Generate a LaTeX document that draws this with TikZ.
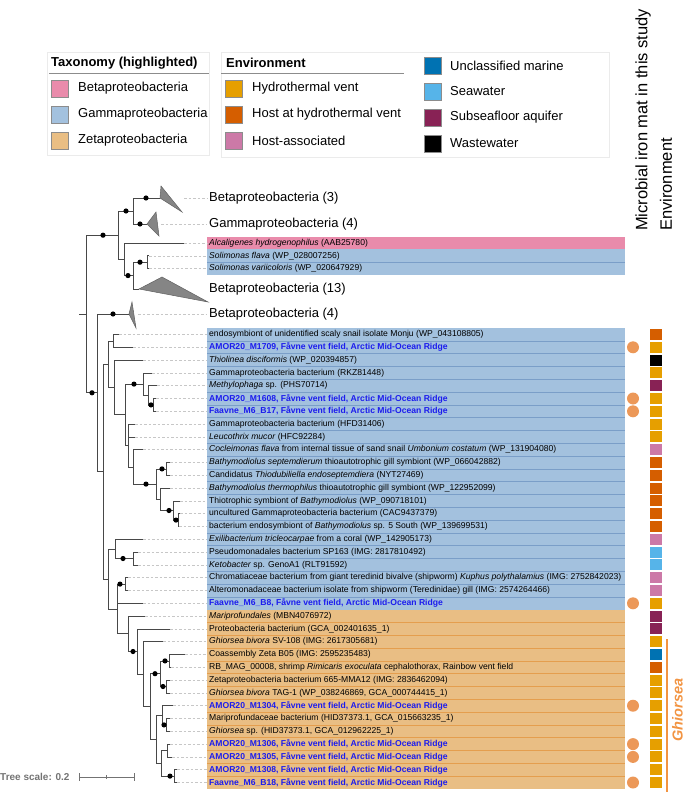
\documentclass[tikz,border=0pt]{standalone}
\usepackage{fontspec}
\setmainfont{Liberation Sans}

\definecolor{betafill}{RGB}{233,139,171}
\definecolor{gammafill}{RGB}{163,193,222}
\definecolor{zetafill}{RGB}{233,190,132}
\definecolor{gammaline}{RGB}{122,158,200}
\definecolor{zetaline}{RGB}{228,158,78}
\definecolor{ventcol}{RGB}{230,159,0}
\definecolor{hostventcol}{RGB}{213,94,0}
\definecolor{hostcol}{RGB}{204,121,167}
\definecolor{marinecol}{RGB}{0,114,178}
\definecolor{seacol}{RGB}{86,180,233}
\definecolor{aquifercol}{RGB}{136,34,85}
\definecolor{wastecol}{RGB}{0,0,0}
\definecolor{matcol}{RGB}{236,152,88}
\definecolor{ghiorseacol}{RGB}{242,148,66}
\definecolor{magblue}{RGB}{28,28,238}
\definecolor{treegray}{RGB}{72,72,72}

\newcommand{\magname}[1]{{\bfseries\color{magblue}#1, Fåvne vent field, Arctic Mid-Ocean Ridge}}
\newcommand{\fork}[3]{\draw[br] (#2) -| (#1 |- #3) -- (#3);}

\begin{document}
\begin{tikzpicture}[x=1pt, y=-1pt,
  br/.style={draw=treegray, line width=0.8pt},
  leader/.style={draw=black!22, line width=0.5pt, dash pattern=on 2.5pt off 2pt},
  clade/.style={fill=black!48, draw=black!62, line width=0.5pt},
  lab/.style={anchor=west, inner xsep=2pt, inner ysep=0pt, font=\fontsize{8.6}{10}\selectfont},
  cladelab/.style={anchor=west, inner xsep=2pt, inner ysep=0pt, font=\fontsize{13}{15}\selectfont},
  envbox/.style={minimum width=12pt, minimum height=11pt, inner sep=0pt},
  matdot/.style={circle, fill=matcol, minimum size=12pt, inner sep=0pt},
  legsq/.style={draw=black!45, line width=0.5pt, minimum size=17pt, inner sep=0pt},
  legtxt/.style={anchor=west, inner sep=0pt, font=\fontsize{13}{15}\selectfont},
  leghead/.style={anchor=west, inner sep=0pt, font=\fontsize{13}{15}\selectfont\bfseries},
  legbox/.style={draw=black!8, line width=0.6pt},
  legrule/.style={draw=black!45, line width=0.9pt},
  colhead/.style={rotate=90, anchor=west, inner sep=0pt, font=\fontsize{16.5}{18}\selectfont},
  scalebar/.style={draw=black!55, line width=0.8pt}]
\useasboundingbox (0,0) rectangle (685,794);

% legend: taxonomy
\draw[legbox] (47,52) rectangle (209,155);
\node[leghead] (htax) at (51,63) {Taxonomy (highlighted)};
\draw[legrule] (49,73) -- (209,73);
\foreach \i/\col/\txt in {1/betafill/Betaproteobacteria, 2/gammafill/Gammaproteobacteria, 3/zetafill/Zetaproteobacteria}{
  \node[legsq, fill=\col] (tq\i) at (59.5,{62.5+26*\i}) {};
  \node[legtxt] (tl\i) at (78,{62.5+26*\i}) {\txt};
}

% legend: environment
\draw[legbox] (221,52) rectangle (609,157);
\node[leghead] (henv) at (226,63) {Environment};
\draw[legrule] (221,73) -- (404,73);
\foreach \i/\col/\txt in {1/ventcol/Hydrothermal vent, 2/hostventcol/Host at hydrothermal vent, 3/hostcol/Host-associated}{
  \node[legsq, fill=\col] (eq\i) at (234,{62.5+26*\i}) {};
  \node[legtxt] (el\i) at (252,{62.5+26*\i}) {\txt};
}
\foreach \i/\col/\txt in {1/marinecol/Unclassified marine, 2/seacol/Seawater, 3/aquifercol/Subseafloor aquifer, 4/wastecol/Wastewater}{
  \node[legsq, fill=\col] (fq\i) at (433,{39.5+26*\i}) {};
  \node[legtxt] (fl\i) at (450,{39.5+26*\i}) {\txt};
}

% column headers
\node[colhead] (hmat) at (643,231) {Microbial iron mat in this study};
\node[colhead] (henv2) at (666,231) {Environment};

% highlight bands
\fill[betafill] (207,236.6) rectangle (625,249.4);
\fill[gammafill] (207,249.4) rectangle (625,275);
\draw[gammaline, line width=0.5pt] (207,262.2) -- (625,262.2);
\fill[gammafill] (207,328.1) rectangle (625,609.7);
\fill[zetafill] (207,609.7) rectangle (625,788.9);
\foreach \i in {1,...,21}
  \draw[gammaline, line width=0.5pt] (207,{334.5+(\i-0.5)*12.8}) -- (625,{334.5+(\i-0.5)*12.8});
\foreach \i in {23,...,35}
  \draw[zetaline, line width=0.5pt] (207,{334.5+(\i-0.5)*12.8}) -- (625,{334.5+(\i-0.5)*12.8});

% collapsed clades
\coordinate (tB3) at (160,198);
\coordinate (tG4) at (147,224);
\coordinate (tB13) at (139,289);
\coordinate (tB4) at (129,314);
\filldraw[clade] (tB3) -- (161,186) -- (182,212) -- cycle;
\filldraw[clade] (tG4) -- (156,212) -- (159,236) -- cycle;
\filldraw[clade] (tB13) -- (162,277) -- (208,302) -- cycle;
\filldraw[clade] (tB4) -- (132,302) -- (136,328) -- cycle;
\node[cladelab] (nB3) at (207,198) {Betaproteobacteria (3)};
\node[cladelab] (nG4) at (207,224) {Gammaproteobacteria (4)};
\node[cladelab] (nB13) at (207,289) {Betaproteobacteria (13)};
\node[cladelab] (nB4) at (207,314) {Betaproteobacteria (4)};
\coordinate (eB3) at (184,198);
\coordinate (eG4) at (161,224);
\coordinate (eB4) at (138,314);
\draw[leader] (eB3) -- (nB3.west);
\draw[leader] (eG4) -- (nG4.west);
\draw[leader] (eB4) -- (nB4.west);

% top leaves
\coordinate (lAl) at (184,243);
\coordinate (lSf) at (149,255.8);
\coordinate (lSv) at (149,268.6);
\node[lab] (tAl) at (207,243) {\textit{Alcaligenes hydrogenophilus} (AAB25780)};
\node[lab] (tSf) at (207,255.8) {\textit{Solimonas flava} (WP\_028007256)};
\node[lab] (tSv) at (207,268.6) {\textit{Solimonas variicoloris} (WP\_020647929)};
\draw[leader] (lAl) -- (tAl.west);
\draw[leader] (lSf) -- (tSf.west);
\draw[leader] (lSv) -- (tSv.west);

% leaves, labels and environment
\foreach \i/\tip/\ec/\txt in {
  1/119/hostventcol/{endosymbiont of unidentified scaly snail isolate Monju (WP\_043108805)},
  2/133/ventcol/{\magname{AMOR20\_M1709}},
  3/143/wastecol/{\textit{Thiolinea disciformis} (WP\_020394857)},
  4/152/ventcol/{Gammaproteobacteria bacterium (RKZ81448)},
  5/157/aquifercol/{\textit{Methylophaga} sp. (PHS70714)},
  6/156/ventcol/{\magname{AMOR20\_M1608}},
  7/156/ventcol/{\magname{Faavne\_M6\_B17}},
  8/135/ventcol/{Gammaproteobacteria bacterium (HFD31406)},
  9/135/ventcol/{\textit{Leucothrix mucor} (HFC92284)},
  10/143/hostcol/{\textit{Cocleimonas flava} from internal tissue of sand snail \textit{Umbonium costatum} (WP\_131904080)},
  11/170/hostventcol/{\textit{Bathymodiolus septemdierum} thioautotrophic gill symbiont (WP\_066042882)},
  12/170/hostventcol/{Candidatus \textit{Thiodubiliella endoseptemdiera} (NYT27469)},
  13/170/hostventcol/{\textit{Bathymodiolus thermophilus} thioautotrophic gill symbiont (WP\_122952099)},
  14/180/hostventcol/{Thiotrophic symbiont of \textit{Bathymodiolus} (WP\_090718101)},
  15/180/hostventcol/{uncultured Gammaproteobacteria bacterium (CAC9437379)},
  16/179/hostventcol/{bacterium endosymbiont of \textit{Bathymodiolus} sp. 5 South (WP\_139699531)},
  17/143/hostcol/{\textit{Exilibacterium tricleocarpae} from a coral (WP\_142905173)},
  18/138/seacol/{Pseudomonadales bacterium SP163 (IMG: 2817810492)},
  19/138/seacol/{\textit{Ketobacter} sp. GenoA1 (RLT91592)},
  20/128/hostcol/{Chromatiaceae bacterium from giant teredinid bivalve (shipworm) \textit{Kuphus polythalamius} (IMG: 2752842023)},
  21/128/hostcol/{Alteromonadaceae bacterium isolate from shipworm (Teredinidae) gill (IMG: 2574264466)},
  22/143/ventcol/{\magname{Faavne\_M6\_B8}},
  23/145/aquifercol/{\textit{Mariprofundales} (MBN4076972)},
  24/170/aquifercol/{Proteobacteria bacterium (GCA\_002401635\_1)},
  25/163/ventcol/{\textit{Ghiorsea bivora} SV-108 (IMG: 2617305681)},
  26/185/marinecol/{Coassembly Zeta B05 (IMG: 2595235483)},
  27/171/hostventcol/{RB\_MAG\_00008, shrimp \textit{Rimicaris exoculata} cephalothorax, Rainbow vent field},
  28/170/ventcol/{Zetaproteobacteria bacterium 665-MMA12 (IMG: 2836462094)},
  29/170/ventcol/{\textit{Ghiorsea bivora} TAG-1 (WP\_038246869, GCA\_000744415\_1)},
  30/173/ventcol/{\magname{AMOR20\_M1304}},
  31/170/ventcol/{Mariprofundaceae bacterium (HID37373.1, GCA\_015663235\_1)},
  32/170/ventcol/{\textit{Ghiorsea} sp. (HID37373.1, GCA\_012962225\_1)},
  33/170/ventcol/{\magname{AMOR20\_M1306}},
  34/172/ventcol/{\magname{AMOR20\_M1305}},
  35/177/ventcol/{\magname{AMOR20\_M1308}},
  36/177/ventcol/{\magname{Faavne\_M6\_B18}}}{
  \pgfmathsetmacro{\yy}{334.5+(\i-1)*12.8}
  \coordinate (l\i) at (\tip,\yy);
  \node[lab] (t\i) at (207,\yy) {\txt};
  \draw[leader] (l\i) -- (t\i.west);
  \node[envbox, fill=\ec] (e\i) at (656,\yy) {};
}

% iron mat from this study
\foreach \i in {2,6,7,22,30,33,34,36}
  \node[matdot] (m\i) at (633,{334.5+(\i-1)*12.8}) {};

% Ghiorsea
\draw[ghiorseacol, line width=1.4pt] (667,639) -- (667,792);
\node[rotate=90, inner sep=0pt, text=ghiorseacol, font=\fontsize{14.5}{16}\selectfont\bfseries\itshape] (ghi) at (677.5,710) {Ghiorsea};

% tree: internal nodes
\coordinate (root) at (79,314);
\coordinate (P1) at (86,314);
\coordinate (B) at (118,235.2);
\coordinate (C) at (133,211);
\coordinate (D) at (124,259.3);
\coordinate (E) at (133,275.6);
\coordinate (Sol) at (147,262.2);
\coordinate (Q) at (97,392.8);
\coordinate (R) at (103,471.6);
\coordinate (g1) at (108,364.2);
\coordinate (n12) at (113,340.9);
\coordinate (T) at (114,387.5);
\coordinate (U) at (125,414.8);
\coordinate (V) at (143,384.1);
\coordinate (X) at (148,395.3);
\coordinate (Y) at (153,404.9);
\coordinate (W) at (128,445.5);
\coordinate (Zc) at (133,466.9);
\coordinate (AA) at (156,484.1);
\coordinate (SG) at (166,468.9);
\coordinate (BB) at (160,499.3);
\coordinate (EE) at (173,510.5);
\coordinate (FF) at (178,520.1);
\coordinate (S) at (108,579);
\coordinate (f) at (115,548.9);
\coordinate (PK) at (133,558.5);
\coordinate (HH) at (117,609);
\coordinate (CA) at (125,584.1);
\coordinate (ZA) at (128,633.8);
\coordinate (ZB) at (137,651.5);
\coordinate (ZC) at (143,674.1);
\coordinate (ZD) at (150,706.5);
\coordinate (ZE) at (160,673.7);
\coordinate (Z26) at (169,660.9);
\coordinate (Z28) at (166,686.5);
\coordinate (ZG) at (156,739.3);
\coordinate (Z30) at (162,715.3);
\coordinate (Z32) at (166,724.9);
\coordinate (ZH) at (161,763.3);
\coordinate (Z34) at (167,750.5);
\coordinate (Z36) at (174,776.1);

% tree: branches
\draw[br] (root) -- (P1);
\fork{P1}{B}{Q}
\fork{B}{C}{D}
\fork{C}{tB3}{tG4}
\fork{D}{lAl}{E}
\fork{E}{Sol}{tB13}
\fork{Sol}{lSf}{lSv}
\fork{Q}{tB4}{R}
\fork{R}{g1}{S}
\fork{g1}{n12}{T}
\fork{n12}{l1}{l2}
\fork{T}{l3}{U}
\fork{U}{V}{W}
\fork{V}{l4}{X}
\fork{X}{l5}{Y}
\fork{Y}{l6}{l7}
\fork{W}{l8}{Zc}
\draw[br] (W |- l9) -- (l9);
\fork{Zc}{l10}{AA}
\fork{AA}{SG}{BB}
\fork{SG}{l11}{l12}
\fork{BB}{l13}{EE}
\fork{EE}{l14}{FF}
\fork{FF}{l15}{l16}
\fork{S}{f}{HH}
\fork{f}{l17}{PK}
\fork{PK}{l18}{l19}
\fork{HH}{CA}{ZA}
\draw[br] (HH |- l22) -- (l22);
\fork{CA}{l20}{l21}
\fork{ZA}{l23}{ZB}
\fork{ZB}{l24}{ZC}
\fork{ZC}{l25}{ZD}
\fork{ZD}{ZE}{ZG}
\fork{ZE}{Z26}{Z28}
\fork{Z26}{l26}{l27}
\fork{Z28}{l28}{l29}
\fork{ZG}{Z30}{ZH}
\fork{Z30}{l30}{Z32}
\fork{Z32}{l31}{l32}
\fork{ZH}{Z34}{Z36}
\fork{Z34}{l33}{l34}
\fork{Z36}{l35}{l36}

% bootstrap support
\foreach \x/\y in {103/235.2, 126/211, 146/198, 140/224, 128/275.6, 140/262.2, 113/314, 92/392.8,
  134/384.1, 151/404.9, 146/484.1, 162/468.9, 169/510.5, 176/520.1, 123/558.5, 120/584.1,
  133/651.5, 155/673.7, 165/660.9, 163/686.5, 164/724.9, 170/776.1}
  \fill (\x,\y) circle (2.6pt);

% tree scale
\node[anchor=west, inner sep=0pt, text=black!55, font=\fontsize{10}{12}\selectfont\bfseries] (tscale) at (0,777) {Tree scale: 0.2};
\draw[scalebar] (79,777) -- (134,777);
\draw[scalebar] (79,773) -- (79,781);
\draw[scalebar] (134,773) -- (134,781);
\draw[scalebar] (106.5,775) -- (106.5,779);
\end{tikzpicture}
\end{document}
